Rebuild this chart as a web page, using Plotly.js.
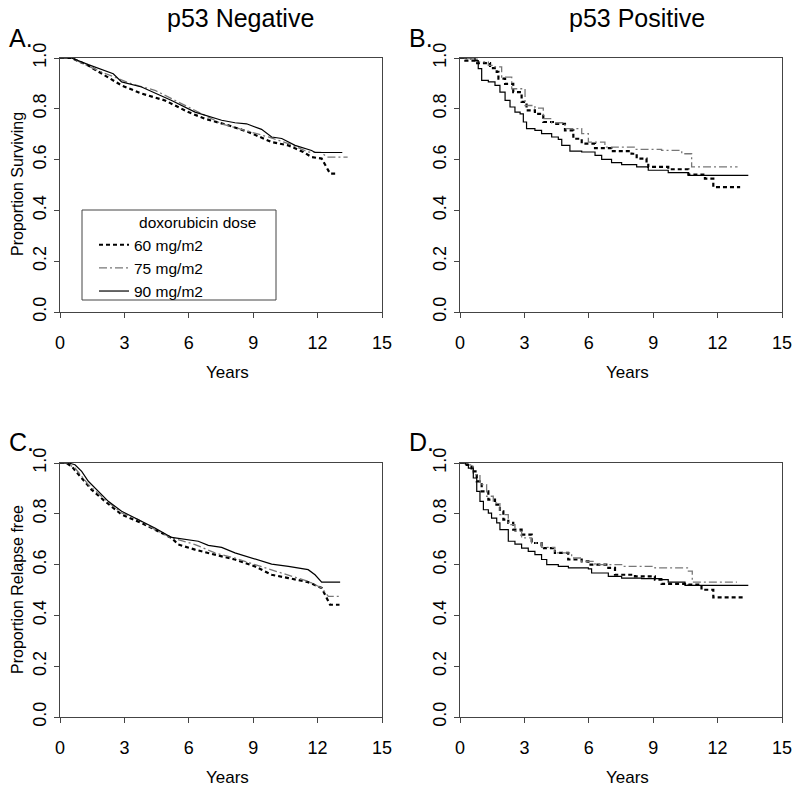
<!DOCTYPE html>
<html>
<head>
<meta charset="utf-8">
<script src="https://cdn.plot.ly/plotly-3.0.1.min.js"></script>
<style>
  html, body { margin: 0; padding: 0; background: #fff; }
  #chart { width: 800px; height: 791px; }
</style>
</head>
<body>
<div id="chart"></div>
<script>
// dose groups
const doseNames = ["60 mg/m2", "75 mg/m2", "90 mg/m2"];
const xTicks = [0, 3, 6, 9, 12, 15];

// A. p53 negative, overall survival
const aTime60 = [0,0.54,1.32,2.33,2.87,3.80,4.89,5.98,6.75,7.84,8.77,9.86,10.64,11.33,11.72,12.19,12.42,12.58,12.95];
const aSurv60 = [1,1,0.970,0.918,0.892,0.860,0.833,0.787,0.761,0.735,0.709,0.669,0.656,0.630,0.610,0.604,0.571,0.545,0.545];
const aTime75 = [0,0.54,1.32,2.08,3.34,4.42,5.20,6.29,7.53,8.62,9.70,10.64,11.56,12.19,12.42,13.40];
const aSurv75 = [1,1,0.968,0.940,0.898,0.873,0.840,0.794,0.741,0.715,0.689,0.663,0.630,0.628,0.610,0.610];
const aTime90 = [0,0.54,1.32,2.08,2.48,2.87,3.80,5.20,6.29,7.53,8.15,8.69,9.39,9.86,10.33,10.95,11.72,11.88,13.15];
const aSurv90 = [1,1,0.974,0.952,0.938,0.906,0.886,0.833,0.787,0.755,0.745,0.741,0.719,0.689,0.683,0.656,0.636,0.628,0.628];

// B. p53 positive, overall survival
const bTime60 = [0,0.25,0.80,1.40,1.71,1.79,2.10,2.48,2.87,3.10,3.49,3.88,4.42,4.89,5.28,5.67,6.29,7.06,7.99,8.23,8.69,8.77,9.70,10.64,11.41,11.80,13.05];
const bSurv60 = [1,0.99,0.98,0.96,0.945,0.919,0.898,0.866,0.827,0.794,0.780,0.748,0.741,0.715,0.682,0.663,0.645,0.633,0.623,0.604,0.584,0.571,0.562,0.541,0.525,0.492,0.492];
const bTime75 = [0,0.30,0.80,1.32,1.63,1.94,2.41,3.03,3.49,3.88,4.27,4.89,5.67,5.98,6.75,8.15,9.39,10.33,10.79,12.93];
const bSurv75 = [1,0.995,0.985,0.971,0.965,0.925,0.879,0.813,0.803,0.761,0.745,0.722,0.702,0.669,0.649,0.640,0.636,0.623,0.571,0.571];
const bTime90 = [0,0.62,0.70,0.85,1.01,1.32,1.63,1.86,2.10,2.33,2.56,2.80,2.95,3.10,3.49,3.80,4.27,4.58,4.74,5.12,5.67,6.29,6.60,7.06,7.53,8.23,8.77,9.70,10.64,13.43];
const bSurv90 = [1,1,0.99,0.958,0.912,0.906,0.892,0.866,0.833,0.807,0.787,0.780,0.748,0.722,0.715,0.702,0.689,0.680,0.656,0.633,0.630,0.617,0.601,0.588,0.580,0.571,0.558,0.549,0.538,0.538];

// C. p53 negative, relapse free
const cTime60 = [0,0.3,0.54,1.01,1.47,2.10,2.87,3.80,4.42,5.20,5.51,6.29,7.22,8.15,9.08,9.86,10.64,11.56,12.19,12.58,13.02];
const cSurv60 = [1,1,0.987,0.941,0.895,0.849,0.797,0.764,0.738,0.705,0.679,0.659,0.639,0.620,0.593,0.560,0.547,0.531,0.508,0.442,0.442];
const cTime75 = [0,0.3,0.70,1.32,2.10,2.87,3.65,4.42,5.20,6.29,7.22,8.15,9.08,9.86,10.64,11.56,12.19,12.50,13.05];
const cSurv75 = [1,1,0.980,0.915,0.856,0.803,0.777,0.738,0.705,0.679,0.646,0.626,0.600,0.580,0.560,0.534,0.508,0.475,0.475];
const cTime90 = [0,0.4,0.70,1.01,1.32,1.79,2.25,2.87,3.65,4.42,5.20,5.98,6.44,6.91,7.53,8.15,9.08,9.86,10.64,11.56,11.88,12.19,13.05];
const cSurv90 = [1,1,0.993,0.967,0.928,0.888,0.849,0.810,0.777,0.744,0.707,0.698,0.692,0.676,0.668,0.646,0.623,0.602,0.593,0.580,0.560,0.531,0.531];

// D. p53 positive, relapse free
const dTime60 = [0,0.31,0.54,0.78,1.01,1.32,1.63,1.86,2.02,2.25,2.48,2.87,3.34,3.80,4.42,5.04,5.67,5.98,6.91,7.22,8.15,9.08,9.39,10.64,11.25,11.80,13.20];
const dSurv60 = [1,0.993,0.967,0.928,0.888,0.856,0.836,0.810,0.777,0.764,0.738,0.718,0.685,0.665,0.646,0.620,0.613,0.600,0.587,0.560,0.554,0.541,0.524,0.521,0.501,0.471,0.471];
const dTime75 = [0,0.25,0.39,0.62,0.93,1.24,1.55,1.86,2.25,2.56,2.87,3.34,3.80,4.42,5.20,5.67,6.29,7.53,9.08,10.64,10.82,12.90];
const dSurv75 = [1,1,0.993,0.954,0.915,0.869,0.843,0.797,0.757,0.731,0.705,0.685,0.668,0.646,0.626,0.613,0.600,0.593,0.587,0.574,0.531,0.531];
const dTime90 = [0,0.25,0.39,0.62,0.78,0.93,1.09,1.32,1.47,1.71,1.86,2.25,2.56,2.87,3.18,3.49,3.80,4.04,4.58,5.05,5.98,6.13,6.91,7.53,8.46,9.39,9.70,10.48,13.43];
const dSurv90 = [1,0.995,0.980,0.941,0.888,0.849,0.816,0.803,0.783,0.764,0.738,0.692,0.681,0.665,0.652,0.639,0.620,0.600,0.593,0.587,0.583,0.567,0.554,0.547,0.545,0.541,0.531,0.518,0.518];

const W = 800, H = 791;
const px = x => x / W;
const py = y => 1 - y / H;
const FONT = "Liberation Sans, Arial, sans-serif";

const lineStyles = [
  { color: "#000000", width: 2.2, dash: "4px,3px" },
  { color: "#777777", width: 1.3, dash: "8px,3px,2px,3px" },
  { color: "#000000", width: 1.2, dash: "solid" }
];

function kmTrace(t, s, i, xa, ya, shape, legend) {
  return {
    type: "scatter",
    mode: "lines",
    x: t, y: s,
    xaxis: xa, yaxis: ya,
    name: doseNames[i],
    legendgroup: doseNames[i],
    showlegend: legend,
    line: Object.assign({ shape: shape }, lineStyles[i]),
    hoverinfo: "skip"
  };
}

const panels = [
  { xa: "x",  ya: "y",  shape: "linear", legend: true,  data: [[aTime60,aSurv60],[aTime75,aSurv75],[aTime90,aSurv90]] },
  { xa: "x2", ya: "y2", shape: "hv",     legend: false, data: [[bTime60,bSurv60],[bTime75,bSurv75],[bTime90,bSurv90]] },
  { xa: "x3", ya: "y3", shape: "linear", legend: false, data: [[cTime60,cSurv60],[cTime75,cSurv75],[cTime90,cSurv90]] },
  { xa: "x4", ya: "y4", shape: "hv",     legend: false, data: [[dTime60,dSurv60],[dTime75,dSurv75],[dTime90,dSurv90]] }
];

const traces = [];
panels.forEach(p => {
  p.data.forEach((d, i) => traces.push(kmTrace(d[0], d[1], i, p.xa, p.ya, p.shape, p.legend)));
});

function xAxis(left, right, anchor) {
  return {
    domain: [px(left), px(right)], anchor: anchor,
    range: [0, 15], tickvals: xTicks, ticks: "outside", ticklen: 5,
    tickcolor: "#444", showline: true, linecolor: "#444", linewidth: 1,
    mirror: true, showgrid: false, zeroline: false, fixedrange: true,
    ticklabelstandoff: 9,
    tickfont: { family: FONT, size: 18, color: "#000" }
  };
}
function yAxis(top, bottom, anchor) {
  return {
    domain: [py(bottom), py(top)], anchor: anchor,
    range: [0, 1], dtick: 0.2, tick0: 0, tickformat: ".1f", tickangle: -90,
    ticks: "outside", ticklen: 5, tickcolor: "#444",
    showline: true, linecolor: "#444", linewidth: 1, mirror: true,
    showgrid: false, zeroline: false, fixedrange: true,
    ticklabelstandoff: 1,
    tickfont: { family: FONT, size: 18, color: "#000" }
  };
}

function label(text, x, y, size, angle) {
  return {
    text: text, xref: "paper", yref: "paper", x: px(x), y: py(y),
    xanchor: "center", yanchor: "middle", showarrow: false,
    textangle: angle || 0,
    font: { family: FONT, size: size, color: "#000" }
  };
}

const annotations = [
  label("p53 Negative", 240, 18, 25),
  label("p53 Positive", 637, 18, 25),
  label("A.", 21, 38, 25),
  label("B.", 421, 38, 25),
  label("C.", 21, 442, 25),
  label("D.", 421, 442, 25),
  label("Years", 227, 372, 17),
  label("Years", 627, 372, 17),
  label("Years", 227, 777, 17),
  label("Years", 627, 777, 17),
  label("Proportion Surviving", 17, 184, 16, -90),
  label("Proportion Relapse free", 17, 590, 16, -90)
];

// legend frame in panel A (domain fractions)
const legendBox = {
  type: "rect", xref: "x domain", yref: "y domain",
  x0: (82 - 60) / 322, x1: (276 - 60) / 322,
  y0: (312 - 300) / 254, y1: (312 - 210) / 254,
  line: { color: "#444", width: 1 }, fillcolor: "rgba(0,0,0,0)"
};

const layout = {
  width: W, height: H,
  margin: { l: 0, r: 0, t: 0, b: 0 },
  paper_bgcolor: "#fff", plot_bgcolor: "#fff",
  font: { family: FONT, color: "#000" },
  xaxis: xAxis(60, 382, "y"),
  yaxis: yAxis(58, 312, "x"),
  xaxis2: xAxis(460, 782, "y2"),
  yaxis2: yAxis(58, 312, "x2"),
  xaxis3: xAxis(60, 382, "y3"),
  yaxis3: yAxis(463, 717, "x3"),
  xaxis4: xAxis(460, 782, "y4"),
  yaxis4: yAxis(463, 717, "x4"),
  showlegend: true,
  legend: {
    x: px(94), y: py(208), xanchor: "left", yanchor: "top",
    bgcolor: "rgba(0,0,0,0)", borderwidth: 0,
    font: { family: FONT, size: 15.5, color: "#000" },
    title: { text: "\u00a0\u00a0\u00a0\u00a0\u00a0\u00a0\u00a0\u00a0\u00a0\u00a0doxorubicin dose", side: "top",
             font: { family: FONT, size: 15.5, color: "#000" } },
    tracegroupgap: 0,
    itemclick: false, itemdoubleclick: false
  },
  shapes: [legendBox],
  annotations: annotations
};

Plotly.newPlot("chart", traces, layout, { staticPlot: true, displayModeBar: false });
</script>
</body>
</html>
